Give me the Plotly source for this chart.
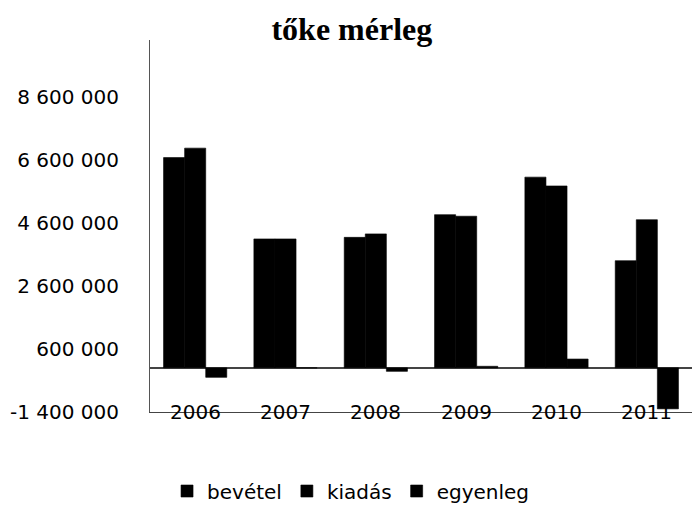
import plotly.graph_objects as go

years = ["2006", "2007", "2008", "2009", "2010", "2011"]
bevetel = [6670000, 4090000, 4140000, 4860000, 6050000, 3400000]
kiadas = [6970000, 4090000, 4250000, 4810000, 5770000, 4700000]
egyenleg = [-300000, 0, -110000, 50000, 280000, -1300000]

tick_vals = [-1400000, 600000, 2600000, 4600000, 6600000, 8600000]
tick_text = ["-1 400 000", "600 000", "2 600 000", "4 600 000", "6 600 000", "8 600 000"]

y_min, y_max = -1400000, 10400000
FONT = "DejaVu Sans, sans-serif"

fig = go.Figure()
for name, vals in [("bevétel", bevetel), ("kiadás", kiadas), ("egyenleg", egyenleg)]:
    fig.add_trace(go.Bar(x=years, y=vals, name=name,
                         marker=dict(color="black",
                                     line=dict(color="black", width=0.6))))

# category labels sit on the bottom axis line (placed by category index)
for i, yr in enumerate(years):
    fig.add_annotation(x=i, y=y_min, text=yr, showarrow=False,
                       yanchor="middle", xanchor="center",
                       font=dict(family=FONT, size=20, color="black"))

fig.update_layout(
    width=694, height=518,
    margin=dict(l=150, r=2, t=40, b=106),
    paper_bgcolor="white", plot_bgcolor="white",
    barmode="group", bargap=0.3, bargroupgap=0,
    title=dict(text="<b>tőke mérleg</b>", x=0.507, xanchor="center",
               y=0.945, yanchor="middle",
               font=dict(family="Liberation Serif, serif", size=32, color="black")),
    showlegend=True,
    legend=dict(orientation="h", x=0.37, xanchor="center", y=-0.16, yanchor="top",
                font=dict(family=FONT, size=20, color="black"),
                itemwidth=30, traceorder="normal"),
    font=dict(family=FONT, color="black"),
)
fig.update_xaxes(type="category", range=[-0.5, len(years) - 0.5],
                 showticklabels=False, showline=True,
                 linecolor="#444", linewidth=1, ticks="", showgrid=False)
fig.update_yaxes(range=[y_min, y_max], tickvals=tick_vals, ticktext=tick_text,
                 showgrid=False, showline=True, linecolor="#555", linewidth=1,
                 zeroline=True, zerolinecolor="#444", zerolinewidth=1.5,
                 tickfont=dict(family=FONT, size=20, color="black"),
                 ticks="", ticklabelstandoff=26)

fig.write_html("out.html")
